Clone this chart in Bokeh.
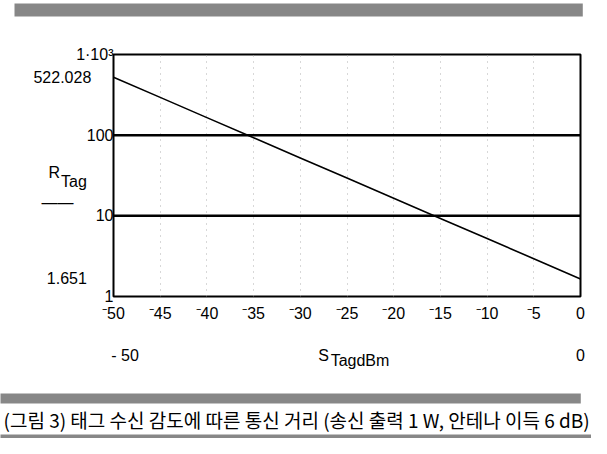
from bokeh.plotting import figure
from bokeh.models import (FixedTicker, Span, LinearAxis, AllLabels, Title)
from bokeh.embed import file_html
from bokeh.resources import INLINE

# ---- data ----
s_tag_dbm = [-50, -45, -40, -35, -30, -25, -20, -15, -10, -5, 0]
r_tag = [522.028, 294.0, 165.0, 92.8, 52.2, 29.4, 16.5, 9.28, 5.22, 2.94, 1.651]
x_ticks = [-50, -45, -40, -35, -30, -25, -20, -15, -10, -5, 0]
x_tick_labels = ["⁻50", "⁻45", "⁻40", "⁻35", "⁻30", "⁻25", "⁻20", "⁻15", "⁻10", "⁻5", "0"]
y_ticks = [1, 10, 100, 1000]
y_tick_labels = ["1", "10", "100", "1·10³"]
y_limits = [1.651, 522.028]          # Mathcad range markers of the curve
x_limits = [-50, 0]
grid_levels = [10, 100]
x_name_main, x_name_sub = "S", "TagdBm"
y_name_main, y_name_sub = "R", "Tag"
caption = "(그림 3) 태그 수신 감도에 따른 통신 거리 (송신 출력 1 W, 안테나 이득 6 dB)"

W, H = 591, 438
FL, FR, FT, FB = 113, 580, 54, 296   # frame edges in picture pixels
FONT = "Liberation Sans"
NB = "\u00a0"
GREY = "#878787"

p = figure(width=W, height=H, output_backend="svg", toolbar_location=None,
           y_axis_type="log", x_range=(-50, 0), y_range=(1, 1000),
           min_border_left=FL, min_border_right=W - FR, min_border_top=FT,
           min_border_bottom=H - FB)
p.background_fill_color = "white"
p.border_fill_color = "white"
p.outline_line_color = "black"
p.outline_line_width = 2
p.ygrid.visible = False
p.xgrid.grid_line_color = "#b0b0b0"
p.xgrid.grid_line_dash = "1 5"
p.xgrid.grid_line_width = 1

for lv in grid_levels:
    p.add_layout(Span(location=lv, dimension="width", line_color="black", line_width=2.5))

p.line(s_tag_dbm, r_tag, line_color="black", line_width=1.6)


def y_at(py):
    # log-axis value that sits at picture row py
    return 10 ** ((FB - py) / ((FB - FT) / 3.0))


def x_at(px):
    return -50 + (px - FL) / (FR - FL) * 50


# ---- left axis: tick values plus Mathcad range markers and the axis name ----
ya = p.yaxis[0]
y_map = {t: l for t, l in zip(y_ticks, y_tick_labels)}
y_map[y_limits[0]] = f"{y_limits[0]:.3f}" + NB * 6
y_map[y_limits[1]] = f"{y_limits[1]:.3f}" + NB * 5
y_map[y_at(172)] = y_name_main + NB * 12
y_map[y_at(181)] = y_name_sub + NB * 6
y_map[y_at(202)] = "——" + NB * 9
ya.ticker = FixedTicker(ticks=sorted(y_map))
ya.major_label_overrides = y_map
ya.major_label_policy = AllLabels()

xa = p.xaxis[0]
xa.ticker = FixedTicker(ticks=x_ticks)
p.xgrid.ticker = FixedTicker(ticks=x_ticks[1:-1])
xa.major_label_overrides = {t: l for t, l in zip(x_ticks, x_tick_labels)}

# second row under the x axis: range markers and the axis name
xb = LinearAxis()
b_map = {x_at(124.5): "- 50", x_at(323): x_name_main, float(x_limits[1]): "0"}
xb.ticker = FixedTicker(ticks=sorted(b_map))
xb.major_label_overrides = b_map
xb.major_label_standoff = 22
p.add_layout(xb, "below")

xc = LinearAxis()
c_map = {x_at(359.5): x_name_sub}
xc.ticker = FixedTicker(ticks=sorted(c_map))
xc.major_label_overrides = c_map
xc.major_label_standoff = -15
xc.axis_label = NB
xc.axis_label_standoff = 0
xc.axis_label_text_font_size = "16px"
p.add_layout(xc, "below")

for ax in (xa, ya, xb, xc):
    ax.axis_line_color = None
    ax.major_tick_line_color = None
    ax.minor_tick_line_color = None
    ax.major_tick_out = 0
    ax.major_tick_in = 0
    ax.major_label_text_font = FONT
    ax.major_label_text_font_size = "16px"
    ax.major_label_text_color = "black"
xa.major_label_standoff = 8
ya.major_label_standoff = 0


def strip(t, offset, pad, fill):
    t.text = " "
    t.align = "left"
    t.offset = offset
    t.text_font_size = "1px"
    t.text_color = fill if fill else "white"
    t.background_fill_color = fill
    t.background_fill_alpha = 1.0
    t.border_line_color = None
    t.standoff = 0
    t.padding = pad
    return t


# top: a blank spacer next to the frame, then the grey scanned strip (default title)
p.add_layout(strip(Title(), 0, dict(left=0, right=10, top=0, bottom=35), None), "above")
strip(p.title, 14 - FL, dict(left=0, right=568, top=0, bottom=12), GREY)

# caption between two grey strips
p.add_layout(strip(Title(), -FL, dict(left=0, right=580, top=0, bottom=9), GREY), "below")
p.add_layout(Title(text=caption, align="left", offset=3 - FL,
                   text_font="Noto Sans CJK KR", text_font_size="19px",
                   text_font_style="normal", text_color="black", standoff=0), "below")
p.add_layout(strip(Title(), -FL, dict(left=0, right=591, top=0, bottom=3), GREY), "below")

open("out.html", "w").write(file_html(p, INLINE))
